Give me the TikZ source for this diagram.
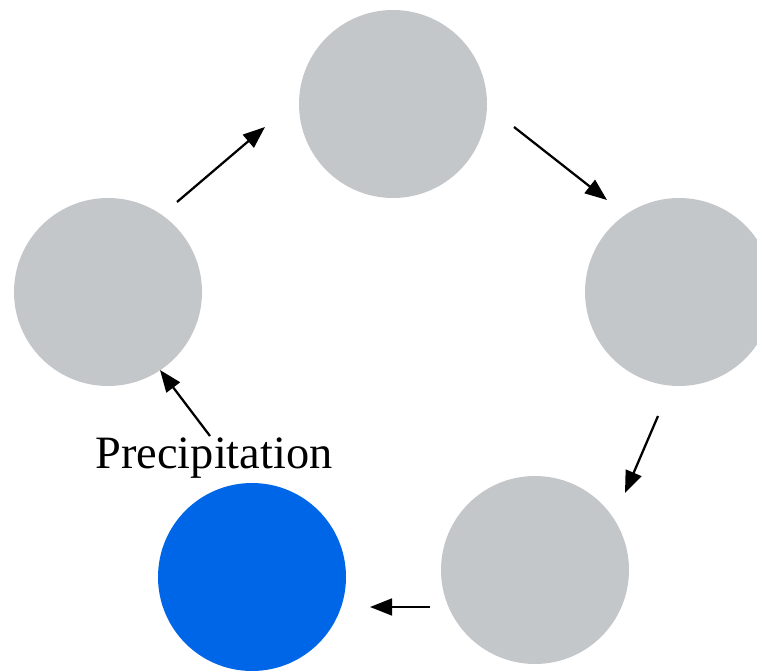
\documentclass[tikz,border=0pt]{standalone}
\usepackage{fontspec}
\setmainfont{Liberation Serif}
\usetikzlibrary{arrows.meta}

\definecolor{stagegray}{RGB}{196,199,202}
\definecolor{rainblue}{RGB}{0,102,232}

\begin{document}
\begin{tikzpicture}[
  stage/.style={circle, fill=stagegray, minimum size=4.7cm, inner sep=0pt},
  flow/.style={-{Triangle[length=5.5mm,width=4.2mm]}, line width=1.6pt}
  ]
  \useasboundingbox[clip] (0,0) rectangle (18.925,-16.775);
  \node[stage] (top) at (9.825,-2.6) {};
  \node[stage] (left) at (2.7,-7.3) {};
  \node[stage] (right) at (16.975,-7.3) {};
  \node[stage] (lowright) at (13.375,-14.25) {};
  \node[stage, fill=rainblue] (rain) at (6.3,-14.425) {};
  \node[font=\fontsize{33}{36}\selectfont] (precip) at (5.35,-11.45) {Precipitation};
  % arrow ends
  \coordinate (a1s) at (4.425,-5.05);  \coordinate (a1e) at (6.625,-3.175);
  \coordinate (a2s) at (12.85,-3.175); \coordinate (a2e) at (15.175,-5.0);
  \coordinate (a3s) at (16.45,-10.4);  \coordinate (a3e) at (15.625,-12.325);
  \coordinate (a4s) at (10.75,-15.175); \coordinate (a4e) at (9.25,-15.175);
  \coordinate (a5s) at (5.25,-10.9);   \coordinate (a5e) at (4.0,-9.25);
  \path[flow]
  (a1s) edge (a1e)
  (a2s) edge (a2e)
  (a3s) edge (a3e)
  (a4s) edge (a4e)
  (a5s) edge (a5e)
  ;
\end{tikzpicture}
\end{document}
